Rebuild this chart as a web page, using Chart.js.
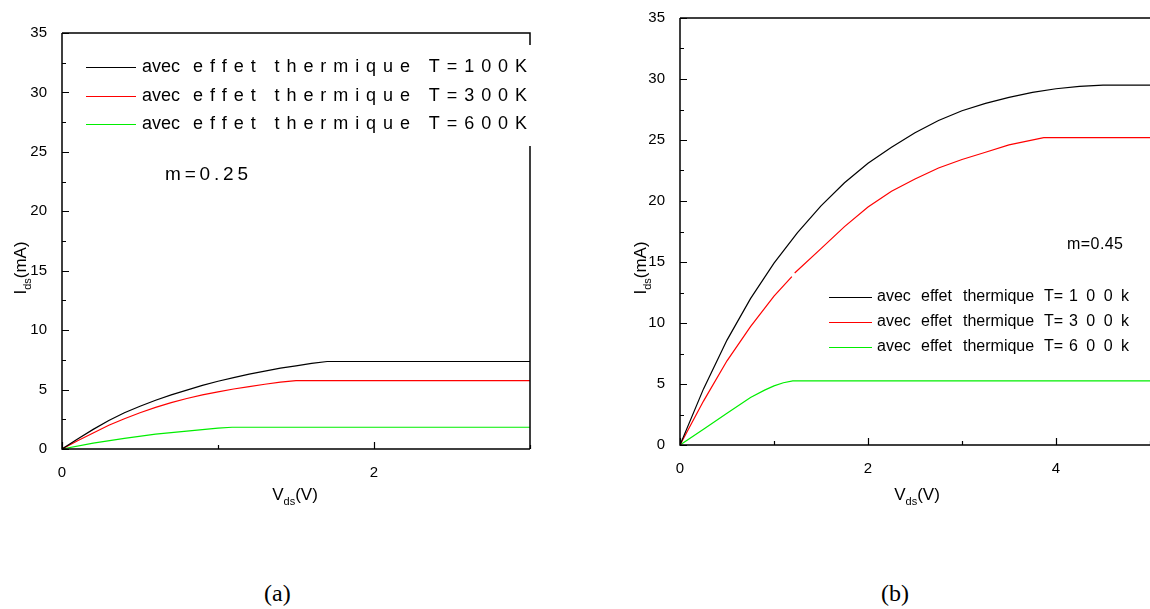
<!DOCTYPE html>
<html>
<head>
<meta charset="utf-8">
<script src="https://cdn.jsdelivr.net/npm/chart.js@4.4.1/dist/chart.umd.min.js"></script>
<style>
  html, body { margin: 0; padding: 0; background: #fff; }
  body { width: 1150px; height: 609px; position: relative; overflow: hidden; }
  .panel { position: absolute; top: 0; }
  .cap { position: absolute; font-family: "Liberation Serif", "Times New Roman", serif; font-size: 24px; color: #000; }
</style>
</head>
<body>
<div class="panel" style="left:0;width:560px;height:530px"><canvas id="chartA" width="560" height="530"></canvas></div>
<div class="panel" style="left:600px;width:550px;height:530px"><canvas id="chartB" width="550" height="530"></canvas></div>
<div class="cap" style="left:264px;top:580px">(a)</div>
<div class="cap" style="left:881px;top:580px">(b)</div>
<script>
// (a) m = 0.25
var vA_100 = [0, 0.1, 0.2, 0.3, 0.4, 0.5, 0.6, 0.7, 0.8, 0.9, 1.0, 1.1, 1.2, 1.3, 1.4, 1.5, 1.6, 1.7, 3.0];
var iA_100 = [0, 0.85, 1.65, 2.4, 3.05, 3.6, 4.1, 4.55, 4.95, 5.35, 5.7, 6.0, 6.3, 6.55, 6.8, 7.0, 7.2, 7.36, 7.36];
var vA_300 = [0, 0.1, 0.2, 0.3, 0.4, 0.5, 0.6, 0.7, 0.8, 0.9, 1.0, 1.1, 1.2, 1.3, 1.4, 1.5, 3.0];
var iA_300 = [0, 0.7, 1.35, 2.0, 2.55, 3.05, 3.5, 3.9, 4.25, 4.55, 4.8, 5.05, 5.25, 5.45, 5.62, 5.76, 5.76];
var vA_600 = [0, 0.2, 0.4, 0.6, 0.8, 1.0, 1.09, 3.0];
var iA_600 = [0, 0.5, 0.9, 1.25, 1.5, 1.75, 1.83, 1.83];

// (b) m = 0.45
var vB_100 = [0, 0.25, 0.5, 0.75, 1.0, 1.25, 1.5, 1.75, 2.0, 2.25, 2.5, 2.75, 3.0, 3.25, 3.5, 3.75, 4.0, 4.25, 4.5, 4.6, 5.0];
var iB_100 = [0, 4.6, 8.6, 12.0, 14.9, 17.4, 19.6, 21.5, 23.1, 24.4, 25.6, 26.6, 27.4, 28.0, 28.5, 28.9, 29.2, 29.4, 29.5, 29.5, 29.5];
var vB_300 = [0, 0.25, 0.5, 0.75, 1.0, 1.19, 1.2, 1.22, 1.5, 1.75, 2.0, 2.25, 2.5, 2.75, 3.0, 3.25, 3.5, 3.87, 5.0];
var iB_300 = [0, 3.6, 6.9, 9.7, 12.2, 13.8, null, 14.1, 16.1, 17.9, 19.5, 20.8, 21.8, 22.7, 23.4, 24.0, 24.6, 25.2, 25.2];
var vB_600 = [0, 0.25, 0.5, 0.75, 0.9, 1.0, 1.1, 1.2, 5.0];
var iB_600 = [0, 1.3, 2.6, 3.9, 4.5, 4.85, 5.1, 5.25, 5.25];

var labelsA = ['avec effet thermique T=100K', 'avec effet thermique T=300K', 'avec effet thermique T=600K'];
var labelsB = ['avec effet thermique T= 100k', 'avec effet thermique T= 300k', 'avec effet thermique T= 600k'];
var colors = ['#000000', '#ff0000', '#00ee00'];

var FONT = '"Liberation Sans", Arial, sans-serif';

function pts(xs, ys) {
  return xs.map(function (x, i) { return { x: x, y: ys[i] }; });
}

function series(xs, ys, color, label) {
  return {
    label: label, data: pts(xs, ys), borderColor: color, borderWidth: 1.2,
    pointRadius: 0, tension: 0, spanGaps: false, fill: false
  };
}

// draws text char by char so that it runs from x0 to x1
function spaced(ctx, text, x0, x1, y) {
  var w = 0;
  for (var i = 0; i < text.length; i++) w += ctx.measureText(text[i]).width;
  var gap = text.length > 1 ? (x1 - x0 - w) / (text.length - 1) : 0;
  var x = x0;
  for (var j = 0; j < text.length; j++) {
    ctx.fillText(text[j], x, y);
    x += ctx.measureText(text[j]).width + gap;
  }
}

// label with a subscript, e.g. V_ds(V)
function subLabel(ctx, parts, cx, y) {
  var total = 0;
  parts.forEach(function (p) { ctx.font = p[1] + 'px ' + FONT; total += ctx.measureText(p[0]).width; });
  var x = cx - total / 2;
  parts.forEach(function (p) {
    ctx.font = p[1] + 'px ' + FONT;
    ctx.fillText(p[0], x, y + p[2]);
    x += ctx.measureText(p[0]).width;
  });
}

// frame, inward ticks, axis titles, legend and notes
var decor = {
  id: 'decor',
  afterDatasetsDraw: function (chart, args, o) {
    var ctx = chart.ctx, a = chart.chartArea, sx = chart.scales.x, sy = chart.scales.y;
    ctx.save();
    ctx.strokeStyle = '#000';
    ctx.lineWidth = 1.5;
    ctx.beginPath();
    ctx.moveTo(a.left, a.top); ctx.lineTo(a.left, a.bottom); ctx.lineTo(a.right, a.bottom);
    ctx.moveTo(a.left, a.top); ctx.lineTo(a.right, a.top);
    if (o.rightBorder) { ctx.lineTo(a.right, a.bottom); }
    ctx.stroke();

    ctx.lineWidth = 1.2;
    ctx.beginPath();
    sx.ticks.forEach(function (t) {
      var px = Math.round(sx.getPixelForValue(t.value)) + 0.5;
      var len = (t.value % 2 === 0) ? 7 : 4;
      ctx.moveTo(px, a.bottom); ctx.lineTo(px, a.bottom - len);
    });
    sy.ticks.forEach(function (t) {
      var py = Math.round(sy.getPixelForValue(t.value)) + 0.5;
      var len = (t.value % 5 === 0) ? 7 : 4;
      ctx.moveTo(a.left, py); ctx.lineTo(a.left + len, py);
    });
    ctx.stroke();

    ctx.fillStyle = '#000';
    ctx.textBaseline = 'alphabetic';
    ctx.textAlign = 'left';
    subLabel(ctx, [['V', 17, 0], ['ds', 11, 5], ['(V)', 17, 0]], o.vx, o.vy);
    ctx.save();
    ctx.translate(o.ix, o.iy);
    ctx.rotate(-Math.PI / 2);
    subLabel(ctx, [['I', 17, 0], ['ds', 11, 5], ['(mA)', 17, 0]], 0, 0);
    ctx.restore();

    // legend
    var L = o.legend;
    if (L.clear) {
      ctx.fillStyle = '#fff';
      ctx.fillRect(L.clear[0], L.clear[1], L.clear[2], L.clear[3]);
      ctx.fillStyle = '#000';
    }
    ctx.textBaseline = 'middle';
    ctx.font = L.size + 'px ' + FONT;
    chart.data.datasets.forEach(function (ds, i) {
      var y = L.rows[i];
      ctx.strokeStyle = ds.borderColor;
      ctx.lineWidth = 1.2;
      ctx.beginPath();
      ctx.moveTo(L.line[0], y + 0.5); ctx.lineTo(L.line[1], y + 0.5);
      ctx.stroke();
      L.draw(ctx, ds.label, y);
    });

    ctx.font = o.note.size + 'px ' + FONT;
    spaced(ctx, o.note.text, o.note.x0, o.note.x1, o.note.y);
    ctx.restore();
  }
};

function makeOptions(cfg) {
  return {
    responsive: false,
    animation: false,
    devicePixelRatio: 1,
    layout: { padding: cfg.padding },
    plugins: { legend: { display: false }, tooltip: { enabled: false }, decor: cfg.decor },
    scales: {
      x: {
        type: 'linear', min: 0, max: cfg.xmax,
        grid: { display: false }, border: { display: false },
        ticks: { stepSize: 1, padding: 7, color: '#000', font: { family: FONT, size: 15 },
          maxRotation: 0, autoSkip: false,
          callback: function (v) { return v % 2 === 0 ? v : ''; } },
        afterFit: function (s) { s.height = cfg.xh; s.paddingLeft = 0; s.paddingRight = 0; }
      },
      y: {
        type: 'linear', min: 0, max: 35,
        grid: { display: false }, border: { display: false },
        ticks: { stepSize: 2.5, padding: 7, color: '#000', font: { family: FONT, size: 15 },
          autoSkip: false,
          callback: function (v) { return v % 5 === 0 ? v : ''; } },
        afterFit: function (s) { s.width = cfg.yw; s.paddingTop = 0; s.paddingBottom = 0; }
      }
    }
  };
}

new Chart(document.getElementById('chartA'), {
  type: 'line',
  data: { datasets: [
    series(vA_100, iA_100, colors[0], labelsA[0]),
    series(vA_300, iA_300, colors[1], labelsA[1]),
    series(vA_600, iA_600, colors[2], labelsA[2])
  ] },
  options: makeOptions({
    padding: { top: 33, right: 30, left: 0, bottom: 0 }, xmax: 3, xh: 81, yw: 62,
    decor: {
      rightBorder: true, vx: 295, vy: 500, ix: 26, iy: 268,
      legend: {
        clear: [78, 45, 456, 101], rows: [67, 96, 124], line: [86, 136], size: 18,
        draw: function (ctx, label, y) {
          ctx.fillText('avec', 142, y);
          spaced(ctx, label.slice(5), 193, 527, y);
        }
      },
      note: { text: 'm=0.25', x0: 165, x1: 248, y: 175, size: 19 }
    }
  }),
  plugins: [decor]
});

new Chart(document.getElementById('chartB'), {
  type: 'line',
  data: { datasets: [
    series(vB_100, iB_100, colors[0], labelsB[0]),
    series(vB_300, iB_300, colors[1], labelsB[1]),
    series(vB_600, iB_600, colors[2], labelsB[2])
  ] },
  options: makeOptions({
    padding: { top: 18, right: 0, left: 0, bottom: 0 }, xmax: 5, xh: 85, yw: 80,
    decor: {
      rightBorder: false, vx: 317, vy: 500, ix: 46, iy: 268,
      legend: {
        clear: null, rows: [297, 322, 347], line: [229, 272], size: 16,
        draw: function (ctx, label, y) {
          var words = label.split(' ');
          ctx.fillText(words[0], 277, y);
          ctx.fillText(words[1], 321, y);
          ctx.fillText(words[2], 363, y);
          ctx.fillText(words[3], 444, y);
          spaced(ctx, words[4], 469, 529, y);
        }
      },
      note: { text: 'm=0.45', x0: 467, x1: 523, y: 245, size: 16 }
    }
  }),
  plugins: [decor]
});
</script>
</body>
</html>
